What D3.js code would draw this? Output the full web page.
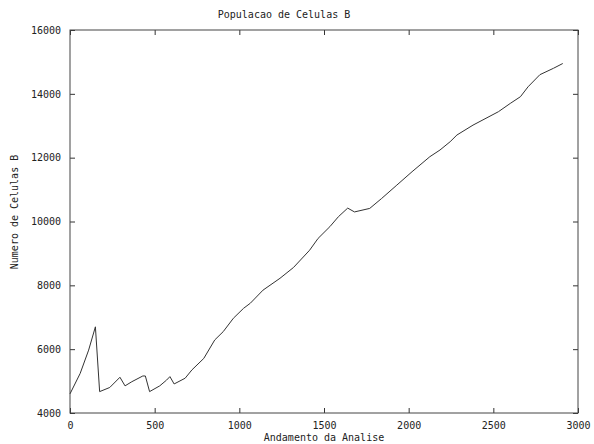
<!DOCTYPE html>
<html>
<head>
<meta charset="utf-8">
<script src="https://cdn.jsdelivr.net/npm/d3@7"></script>
<style>
  body { margin: 0; background: #fff; }
  text { font-family: "DejaVu Sans Mono", monospace; font-size: 10px; fill: #222; }
</style>
</head>
<body>
<div id="plot"></div>
<script>
// data
var passos = [0, 60, 110, 150, 175, 235, 295, 325, 365, 430, 445, 470, 530, 570, 590, 615, 680, 720, 790, 855, 905, 965, 1025, 1065, 1140, 1240, 1320, 1415, 1465, 1535, 1585, 1640, 1680, 1770, 1840, 1930, 2020, 2125, 2185, 2245, 2285, 2380, 2530, 2600, 2660, 2705, 2775, 2855, 2910];
var celulas = [4600, 5240, 5970, 6700, 4670, 4800, 5120, 4850, 4980, 5160, 5160, 4670, 4850, 5030, 5140, 4910, 5090, 5350, 5710, 6290, 6550, 6970, 7280, 7440, 7850, 8220, 8560, 9100, 9470, 9840, 10150, 10420, 10300, 10410, 10720, 11140, 11560, 12030, 12240, 12500, 12710, 13020, 13440, 13700, 13910, 14220, 14600, 14800, 14950];
var xTicks = [0, 500, 1000, 1500, 2000, 2500, 3000];
var yTicks = [4000, 6000, 8000, 10000, 12000, 14000, 16000];

var svgWidth = 594, svgHeight = 444;
var margin = { top: 30, right: 16, bottom: 31, left: 70 };
var width = svgWidth - margin.left - margin.right;
var height = svgHeight - margin.top - margin.bottom;

var svg = d3.select("#plot").append("svg")
    .attr("width", svgWidth)
    .attr("height", svgHeight);

var chartGroup = svg.append("g")
    .attr("transform", `translate(${margin.left}, ${margin.top})`);

var xScale = d3.scaleLinear().domain([0, 3000]).range([0, width]);
var yScale = d3.scaleLinear().domain([4000, 16000]).range([height, 0]);

var data = passos.map((p, i) => ({ x: p, y: celulas[i] }));

// axes with inward ticks (mirrored on top/right)
var bottomAxis = d3.axisBottom(xScale).tickValues(xTicks).tickSize(-5).tickPadding(9).tickFormat(d3.format("d"));
var leftAxis = d3.axisLeft(yScale).tickValues(yTicks).tickSize(-5).tickPadding(9).tickFormat(d3.format("d"));
var topAxis = d3.axisTop(xScale).tickValues(xTicks).tickSize(-5).tickFormat("");
var rightAxis = d3.axisRight(yScale).tickValues(yTicks).tickSize(-5).tickFormat("");

function styleAxis(g) {
    g.select(".domain").remove();
    g.selectAll(".tick line").attr("stroke", "#333");
    g.selectAll(".tick text").attr("fill", "#222")
        .style("font-family", "'DejaVu Sans Mono', monospace").style("font-size", "10px");
}

chartGroup.append("g").attr("transform", `translate(0, ${height})`).call(bottomAxis).call(styleAxis);
chartGroup.append("g").call(leftAxis).call(styleAxis);
chartGroup.append("g").call(topAxis).call(styleAxis);
chartGroup.append("g").attr("transform", `translate(${width}, 0)`).call(rightAxis).call(styleAxis);

// frame
chartGroup.append("rect")
    .attr("x", 0).attr("y", 0)
    .attr("width", width).attr("height", height)
    .attr("fill", "none")
    .attr("stroke", "#444")
    .attr("stroke-width", 1);

// the line
var line = d3.line().x(d => xScale(d.x)).y(d => yScale(d.y));
chartGroup.append("path")
    .datum(data)
    .attr("d", line)
    .attr("fill", "none")
    .attr("stroke", "#333")
    .attr("stroke-width", 1);

// titles
svg.append("text")
    .attr("x", 284).attr("y", 18)
    .attr("text-anchor", "middle")
    .text("Populacao de Celulas B");

svg.append("text")
    .attr("x", 324).attr("y", 441)
    .attr("text-anchor", "middle")
    .text("Andamento da Analise");

svg.append("text")
    .attr("transform", "translate(18, 212) rotate(-90)")
    .attr("text-anchor", "middle")
    .text("Numero de Celulas B");
</script>
</body>
</html>
